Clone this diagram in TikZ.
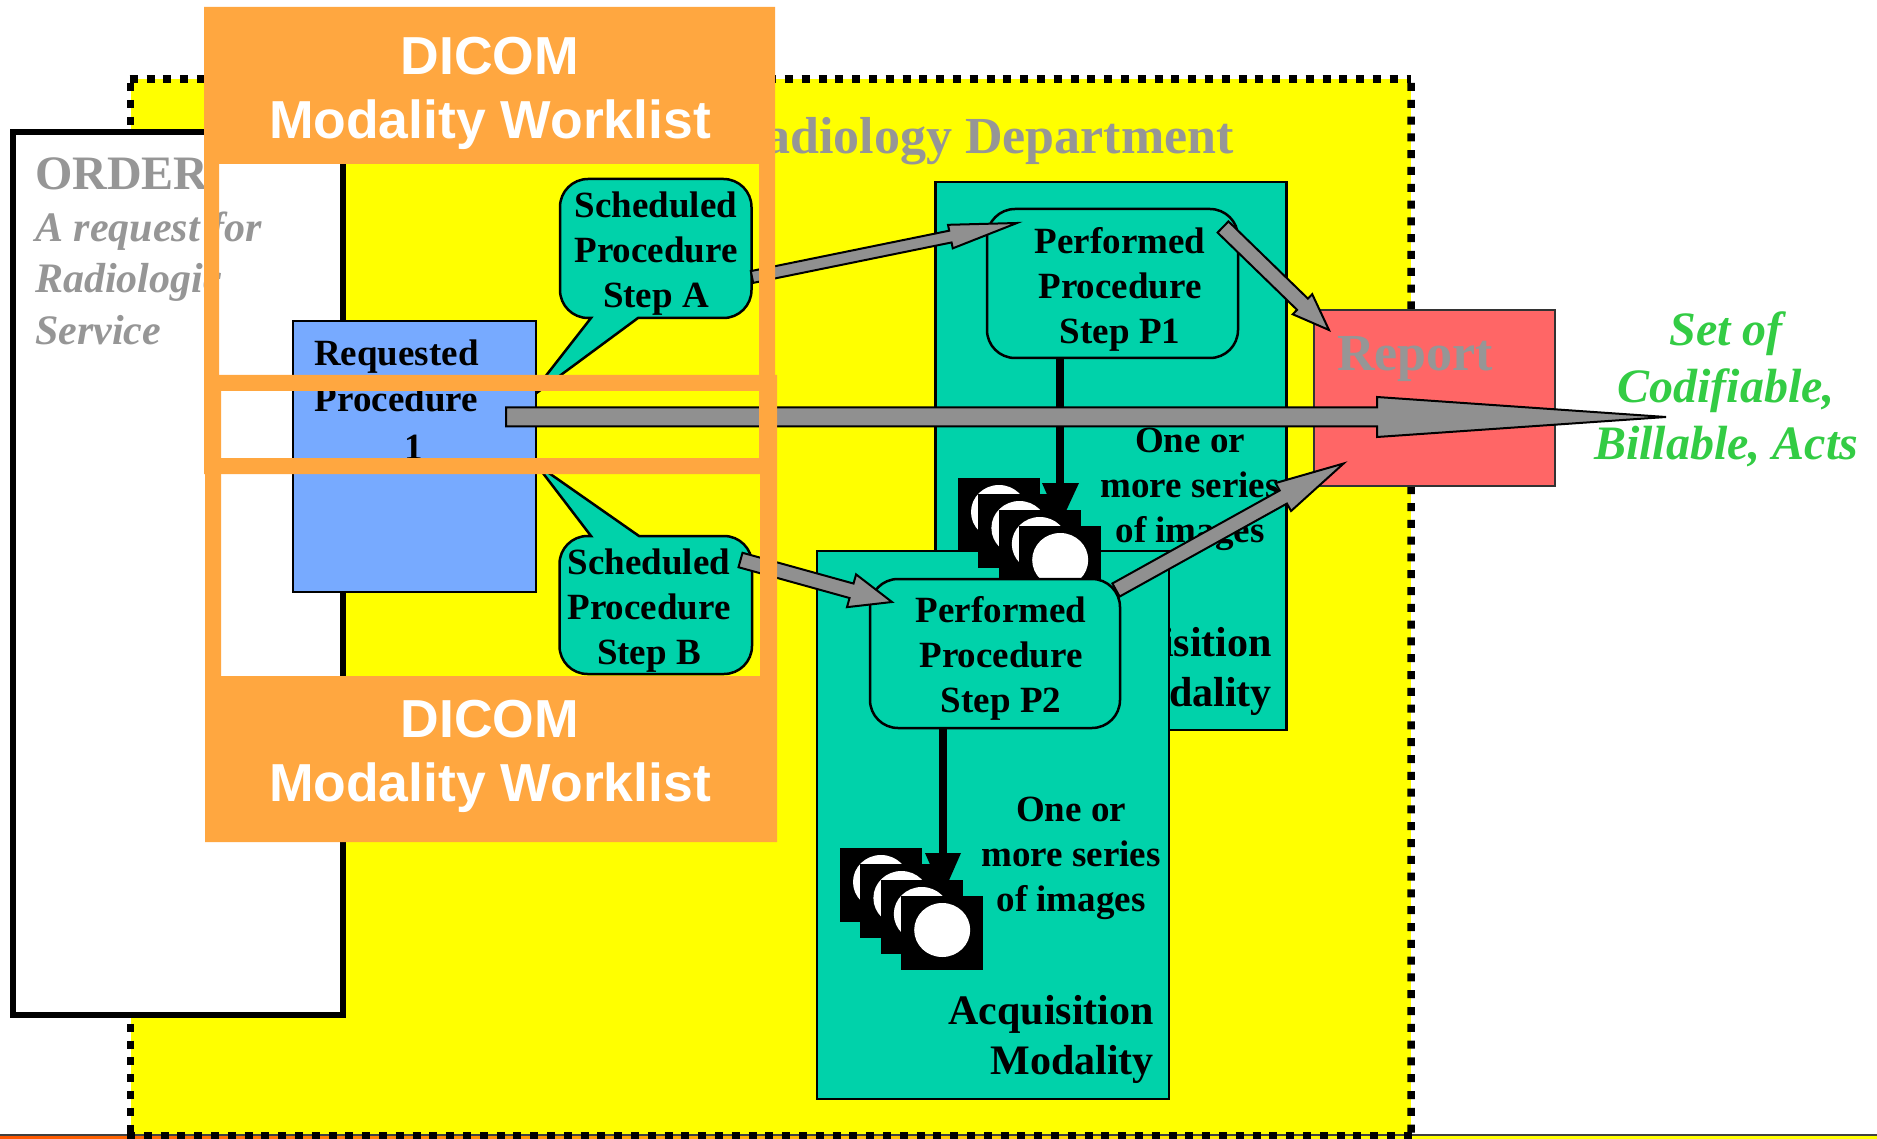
\documentclass[tikz,border=0pt]{standalone}
\usepackage{fontspec}
\setmainfont{Liberation Serif}
\setsansfont{Liberation Sans}
\usetikzlibrary{calc}
\definecolor{deptyellow}{HTML}{FFFF00}
\definecolor{teal}{HTML}{00D2AA}
\definecolor{reqblue}{HTML}{77AAFF}
\definecolor{orangeband}{HTML}{FFA740}
\definecolor{reportred}{HTML}{FF6666}
\definecolor{txtgray}{HTML}{969696}
\definecolor{arrowgray}{HTML}{909090}
\definecolor{acts}{HTML}{33CC44}
\definecolor{stripred}{HTML}{FF5500}
\tikzset{
  lbl/.style={font=\bfseries\fontsize{37}{45}\selectfont, align=center, text=black, inner sep=0pt},
  graybig/.style={font=\bfseries\fontsize{52}{52}\selectfont, text=txtgray, inner sep=0pt},
  grayit/.style={font=\bfseries\itshape\fontsize{42}{52}\selectfont, text=txtgray, inner sep=0pt, align=left, anchor=base west},
  acq/.style={font=\bfseries\fontsize{42}{50}\selectfont, text=black, inner sep=0pt, align=right},
  wl/.style={font=\sffamily\bfseries\fontsize{53.5}{64}\selectfont, text=white, inner sep=0pt, align=center},
  panel/.style={draw=black, line width=2.5pt, fill=teal},
  stepbox/.style={draw=black, line width=2.5pt, fill=teal, rounded corners=28pt},
  blockarrow/.style={draw=black, line width=2pt, fill=arrowgray, line join=miter},
  heavy/.style={draw=black, line width=8pt},
  deptdash/.style={draw=black, line width=7.5pt, dash pattern=on 8pt off 8.8pt},
  band/.style={fill=orangeband, draw=none, even odd rule},
}
% a = tail name, b = tip name, half shaft, head length, half head
\newcommand{\blockarr}[5]{%
  \coordinate (hh) at ($(#2)!#4pt!(#1)$);
  \path[blockarrow]
    ($(#1)!#3pt!90:(#2)$) -- ($(hh)!#3pt!-90:(#1)$) -- ($(hh)!#5pt!-90:(#1)$) -- (#2)
    -- ($(hh)!#5pt!90:(#1)$) -- ($(hh)!#3pt!90:(#1)$) -- ($(#1)!#3pt!-90:(#2)$) -- cycle;
}
\newcommand{\imgsquare}[3]{% name, x, y
  \fill[black] (#2,#3) rectangle ++(82,74);
  \fill[white] (#2+41,#3+34) ellipse [x radius=28, y radius=27];
}
\newcommand{\imgstack}[2]{%
  \imgsquare{a}{#1}{#2}
  \imgsquare{b}{#1+20.4}{#2+16}
  \imgsquare{c}{#1+40.8}{#2+32}
  \imgsquare{d}{#1+61.2}{#2+48}
}
\begin{document}
\begin{tikzpicture}[x=1pt,y=-1pt]
\useasboundingbox (0,0) rectangle (1877,1139);
\clip (0,0) rectangle (1877,1139);
\fill[white] (0,0) rectangle (1877,1139);
% bottom strip
\shade[left color=stripred, right color=deptyellow] (0,1136) rectangle (1411,1139);
\fill[deptyellow] (1411,1136) rectangle (1877,1139);
% department
\node[fill=deptyellow, minimum width=1280.3pt, minimum height=1057pt, inner sep=0pt, outer sep=0pt, anchor=north west] (dept) at (130.7,79) {};
\fill[black!75] (0,1134.4) rectangle (1877,1136);
\draw[deptdash] (dept.north west) ++(-1,0) -- (dept.north east);
\draw[deptdash] (130.7,83) -- (dept.south west);
\draw[deptdash] (1411,83) -- (dept.south east);
\draw[deptdash] (127,1135.5) -- (1415,1135.5);
\node[graybig, anchor=east] (depttitle) at (1234,141.5) {Radiology Department};
% order box
\node[draw=black, line width=6pt, fill=white, anchor=north west, minimum width=330pt, minimum height=883pt, outer sep=0pt] (order) at (13,132) {};
\node[graybig, font=\bfseries\fontsize{48}{52}\selectfont, anchor=base west] (ordertitle) at (35,190) {ORDER};
\node[grayit] (req1) at (35,242) {A request for};
\node[grayit] (req2) at (35,293) {Radiologic};
\node[grayit] (req3) at (35,345) {Service};
% acquisition modality 1
\node[panel, anchor=north west, minimum width=351pt, minimum height=548pt, outer sep=0pt] (acq1) at (935.5,182) {};
\node[stepbox, anchor=north west, minimum width=251pt, minimum height=149pt, outer sep=0pt] (pps1) at (987,209) {};
\node[lbl] (pps1t) at (1120,289.5) {Performed\\Procedure\\Step P1};
\coordinate (head1a) at (1042,483);
\coordinate (head1b) at (1079,483);
\coordinate (head1c) at (1060,524);
\draw[heavy] (pps1.south -| head1c) -- (1060,485);
\fill[black] (head1a) -- (head1b) -- (head1c) -- cycle;
\node[lbl] (series1) at (1190,489) {One or\\more series\\of images};
\node[acq, anchor=east] (acq1a) at (1272,646.5) {Acquisition};
\node[acq, anchor=east] (acq1b) at (1272,696.5) {Modality};
% report
\node[draw=black!80, line width=2pt, fill=reportred, anchor=north west, minimum width=241pt, minimum height=176pt, outer sep=0pt] (report) at (1314,310) {};
\node[graybig] (reportt) at (1415,359) {Report};
% acquisition modality 2
\node[panel, anchor=north west, minimum width=352pt, minimum height=548pt, outer sep=0pt] (acq2) at (817,551) {};
\imgstack{958}{478}
\coordinate (t1) at (1116,590);
\coordinate (t2) at (1343.6,463.5);
\blockarr{t1}{t2}{7.5}{69}{16}
\node[stepbox, anchor=north west, minimum width=250pt, minimum height=149pt, outer sep=0pt] (pps2) at (870,579) {};
\node[lbl] (pps2t) at (1001,658.5) {Performed\\Procedure\\Step P2};
\coordinate (head2a) at (925,853);
\coordinate (head2b) at (961,853);
\coordinate (head2c) at (943,894);
\draw[heavy] (pps2.south -| head2c) -- (943,855);
\fill[black] (head2a) -- (head2b) -- (head2c) -- cycle;
\imgstack{840}{848}
\node[lbl] (series2) at (1071,858.5) {One or\\more series\\of images};
\node[acq, anchor=east] (acq2a) at (1154,1014.5) {Acquisition};
\node[acq, anchor=east] (acq2b) at (1154,1064.5) {Modality};
% callouts
\coordinate (tipA) at (527,400);
\coordinate (tipB) at (536,464);
\draw[draw=black, line width=2.5pt, fill=teal, rounded corners=0pt]
  (tipA) -- (591,318) [rounded corners=28pt] -- (560,318) -- (560,179) -- (751.5,179) -- (751.5,318) [rounded corners=0pt] -- (638,318) -- cycle;
\node[lbl] (schedA) at (656,254) {Scheduled\\Procedure\\Step A};
\draw[draw=black, line width=2.5pt, fill=teal, rounded corners=0pt]
  (tipB) -- (591,536) [rounded corners=28pt] -- (559.5,536) -- (559.5,674) -- (752,674) -- (752,536) [rounded corners=0pt] -- (639,536) -- cycle;
\node[lbl] (schedB) at (649,610.5) {Scheduled\\Procedure\\Step B};
% requested procedure
\node[draw=black, line width=2.5pt, fill=reqblue, anchor=north west, minimum width=243pt, minimum height=271pt, outer sep=0pt] (reqbox) at (293,321) {};
\node[lbl, anchor=base] (reqt) at (396.5,366) {Requested};
\node[lbl, anchor=base] (reqt2) at (396.5,412) {Procedure};
\node[lbl, anchor=base] (reqt3) at (414,459) {1};
% arrows
\coordinate (a1) at (752,277);
\coordinate (a2) at (1017,223);
\blockarr{a1}{a2}{6}{68}{12}
\coordinate (b1) at (740.5,560);
\coordinate (b2) at (892,602);
\blockarr{b1}{b2}{7.5}{42}{17}
\coordinate (c1) at (1223,227);
\coordinate (c2) at (1329,330);
\blockarr{c1}{c2}{7.8}{37}{14}
\coordinate (d1) at (506,417);
\coordinate (d2) at (1666,417);
\blockarr{d1}{d2}{9.5}{289}{20}
\node[font=\bfseries\itshape\fontsize{48}{57}\selectfont, text=acts, align=center, inner sep=0pt] (acts) at (1726,389.5) {Set of\\Codifiable,\\Billable, Acts};
% orange frames
\path[band] (204,7) rectangle (775,474) (219,164) rectangle (759,458);
\node[wl] (wl1) at (490,93.5) {DICOM\\Modality Worklist};
\path[band] (205,375) rectangle (777,842) (221,391) rectangle (760,676);
\node[wl] (wl2) at (490,756.5) {DICOM\\Modality Worklist};
\end{tikzpicture}
\end{document}
